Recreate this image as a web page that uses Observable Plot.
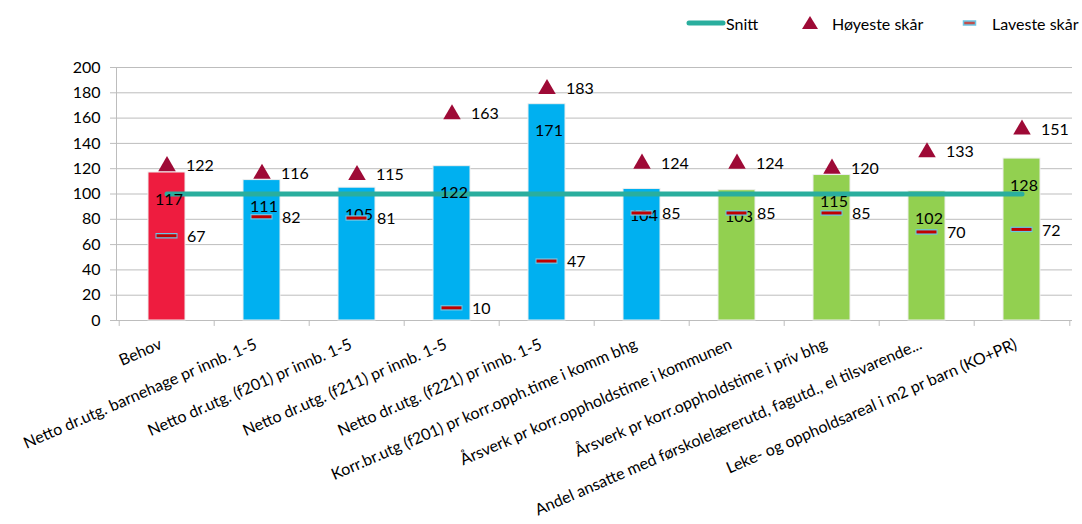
<!DOCTYPE html>
<html><head><meta charset="utf-8">
<script src="https://cdn.jsdelivr.net/npm/d3@7"></script>
<script src="https://cdn.jsdelivr.net/npm/@observablehq/plot@0.6"></script>
<style>
body{margin:0;background:#fff;font-family:Lato,sans-serif;color:#000;}
#wrap{position:relative;width:1082px;height:524px;}
#legend{position:absolute;top:0;left:0;width:1082px;height:45px;font-size:16px;}
#legend .item{position:absolute;top:13px;display:flex;align-items:center;height:20px;}
#legend svg{display:block;}
#chart{position:absolute;top:0;left:0;}
</style></head><body>
<div id="wrap">
<div id="chart"></div>
<div id="legend">
  <div class="item" style="left:686px"><svg width="40" height="20"><line x1="3" x2="37" y1="10" y2="10" stroke="#2AAE9E" stroke-width="5" stroke-linecap="round"/></svg><span>Snitt</span></div>
  <div class="item" style="left:800px"><svg width="20" height="20"><path d="M10,3L18,16L2,16Z" fill="#9E0A36"/></svg><span style="margin-left:12px">Høyeste skår</span></div>
  <div class="item" style="left:960px"><svg width="20" height="20"><rect x="3.5" y="8" width="12" height="4" fill="#C0504D" stroke="#6CC4E4" stroke-width="1.5"/></svg><span style="margin-left:12px">Laveste skår</span></div>
</div>
</div>
<script>
const categories = [
  "Behov",
  "Netto dr.utg. barnehage pr innb. 1-5",
  "Netto dr.utg. (f201) pr innb. 1-5",
  "Netto dr.utg. (f211) pr innb. 1-5",
  "Netto dr.utg. (f221) pr innb. 1-5",
  "Korr.br.utg (f201) pr korr.opph.time i komm bhg",
  "Årsverk pr korr.oppholdstime i kommunen",
  "Årsverk pr korr.oppholdstime i priv bhg",
  "Andel ansatte med førskolelærerutd, fagutd., el tilsvarende...",
  "Leke- og oppholdsareal i m2 pr barn (KO+PR)"
];
const groups = ["Behov","Utgift","Utgift","Utgift","Utgift","Utgift","Tjeneste","Tjeneste","Tjeneste","Tjeneste"];
const values  = [117, 111, 105, 122, 171, 104, 103, 115, 102, 128];
const highest = [122, 116, 115, 163, 183, 124, 124, 120, 133, 151];
const lowest  = [67, 82, 81, 10, 47, 85, 85, 85, 70, 72];
const snitt   = [100, 100, 100, 100, 100, 100, 100, 100, 100, 100];
const yTicks  = [0, 20, 40, 60, 80, 100, 120, 140, 160, 180, 200];

const data = categories.map((c, i) => ({cat: c, group: groups[i], value: values[i], high: highest[i], low: lowest[i], avg: snitt[i]}));

const W = 1082, H = 524, ML = 116, MR = 10, MT = 67, MB = 204;
const step = (W - ML - MR) / categories.length;

const chart = Plot.plot({
  width: W, height: H,
  marginLeft: ML, marginRight: MR, marginTop: MT, marginBottom: MB,
  style: {fontFamily: "Lato, sans-serif", fontSize: "15px", color: "#000", background: "#fff"},
  x: {domain: categories, paddingInner: 0.61, paddingOuter: 0.305, label: null, axis: null},
  y: {domain: [0, 200], label: null, axis: null},
  color: {domain: ["Behov","Utgift","Tjeneste"], range: ["#EE1C3F", "#00B0F0", "#92D050"]},
  marks: [
    Plot.gridY(yTicks, {stroke: "#bdbdbd", strokeOpacity: 1, strokeWidth: 1}),
    Plot.axisY(yTicks, {tickSize: 6, tickPadding: 10, stroke: "#bdbdbd", fontSize: 16, label: null}),
    Plot.frame({anchor: "left", stroke: "#bdbdbd"}),
    Plot.ruleX(categories, {x: d => d, dx: -step / 2, y1: 0, y2: -4.7, stroke: "#bdbdbd"}),
    Plot.ruleX([categories[categories.length - 1]], {x: d => d, dx: step / 2, y1: 0, y2: -4.7, stroke: "#bdbdbd"}),
    Plot.axisX({tickSize: 0, tickRotate: -23.5, tickPadding: 23, dx: -6, fontSize: 16, label: null}),
    Plot.barY(data, {x: "cat", y: "value", fill: "group", stroke: "#eeeeee", strokeWidth: 1}),
    Plot.lineY(data, {x: "cat", y: "avg", stroke: "#2AAE9E", strokeWidth: 5, strokeLinecap: "round"}),
    Plot.text(data, {x: "cat", y: "value", text: d => String(d.value), dy: 27, dx: 2, fontSize: 16}),
    Plot.tickY(data, {x: "cat", y: "low", stroke: "#6CC4E4", strokeWidth: 5.5, insetLeft: 7.5, insetRight: 7.5}),
    Plot.tickY(data, {x: "cat", y: "low", stroke: "#C00000", strokeWidth: 3, insetLeft: 8.5, insetRight: 8.5}),
    Plot.text(data, {x: "cat", y: "low", text: d => String(d.low), dx: 20, dy: 1, textAnchor: "start", fontSize: 16}),
    Plot.dot(data, {x: "cat", y: "high", symbol: "triangle", r: 6.5, fill: "#9E0A36"}),
    Plot.text(data, {x: "cat", y: "high", text: d => String(d.high), dx: 19, textAnchor: "start", fontSize: 16})
  ]
});
document.getElementById("chart").appendChild(chart);
</script>
</body></html>
